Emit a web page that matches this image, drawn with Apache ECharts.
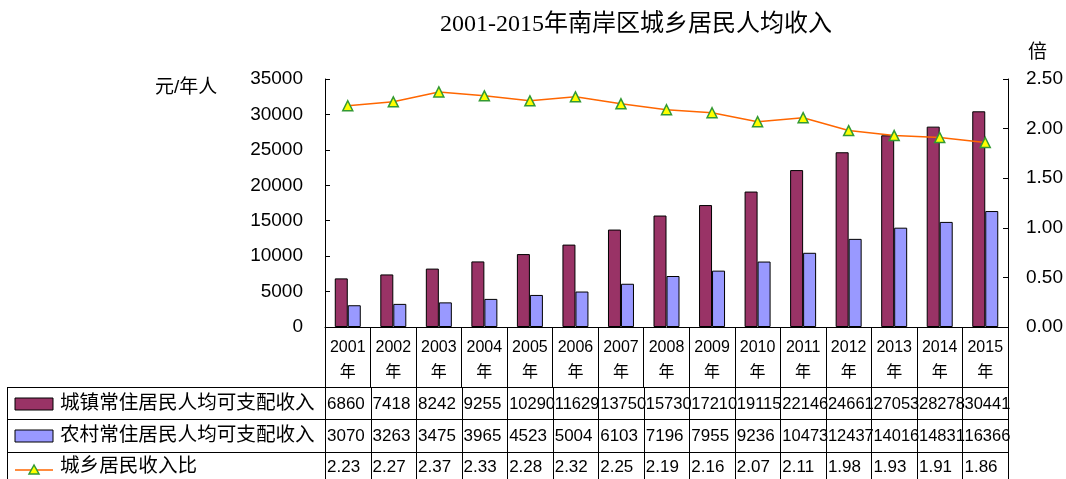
<!DOCTYPE html>
<html><head><meta charset="utf-8">
<script src="https://cdn.jsdelivr.net/npm/echarts@6/dist/echarts.min.js"></script>
<style>html,body{margin:0;padding:0;background:#fff;}#c{width:1066px;height:479px;}</style>
</head><body><div id="c"></div>
<script>
const years = ['2001','2002','2003','2004','2005','2006','2007','2008','2009','2010','2011','2012','2013','2014','2015'];
const urban = [6860,7418,8242,9255,10290,11629,13750,15730,17210,19115,22146,24661,27053,28278,30441];
const rural = [3070,3263,3475,3965,4523,5004,6103,7196,7955,9236,10473,12437,14016,14831,16366];
const ratio = [2.23,2.27,2.37,2.33,2.28,2.32,2.25,2.19,2.16,2.07,2.11,1.98,1.93,1.91,1.86];
const seriesNames = ['城镇常住居民人均可支配收入','农村常住居民人均可支配收入','城乡居民收入比'];
const titleText = '2001-2015年南岸区城乡居民人均收入';
const leftUnit = '元/年人';
const rightUnit = '倍';

const FONT = "'Liberation Sans','Noto Sans CJK SC',sans-serif";
const C_URBAN = '#993366', C_RURAL = '#9999FF', C_LINE = '#FF6600';

const chart = echarts.init(document.getElementById('c'), null, {renderer:'canvas'});
const option = {
  animation: false,
  backgroundColor: '#fff',
  title: {
    text: titleText, left: 631, top: 8, textAlign: 'center',
    textStyle: {fontSize: 24, fontWeight: 'normal', color: '#000', fontFamily: "'Liberation Serif','Noto Sans CJK SC',serif"}
  },
  grid: {left: 325, right: 53, top: 79, bottom: 152},
  xAxis: [{
    type: 'category', data: years, boundaryGap: true,
    axisLine: {show: true, lineStyle: {color: '#000', width: 1}},
    axisTick: {show: true, interval: 0, length: 60, lineStyle: {color: '#000', width: 1}},
    axisLabel: {interval: 0, margin: 8, fontSize: 16, lineHeight: 25, color: '#000', fontFamily: FONT,
      formatter: v => v + '\n年'}
  }],
  yAxis: [{
    type: 'value', min: 0, max: 35000, interval: 5000,
    axisLine: {show: true, lineStyle: {color: '#000'}},
    axisTick: {show: true, inside: true, length: 5, lineStyle: {color: '#000'}},
    axisLabel: {fontSize: 19, margin: 22, color: '#000', fontFamily: FONT, formatter: v => String(v)},
    splitLine: {show: false}
  },{
    type: 'value', min: 0, max: 2.5, interval: 0.5, position: 'right',
    axisLine: {show: true, lineStyle: {color: '#000'}},
    axisTick: {show: true, inside: true, length: 5, lineStyle: {color: '#000'}},
    axisLabel: {fontSize: 19, margin: 18, color: '#000', fontFamily: FONT, formatter: v => v.toFixed(2)},
    splitLine: {show: false}
  }],
  series: [{
    name: seriesNames[0], type: 'bar', data: urban, barWidth: 13, barGap: '0%',
    itemStyle: {color: C_URBAN, borderColor: '#000', borderWidth: 1}
  },{
    name: seriesNames[1], type: 'bar', data: rural, barWidth: 13, barGap: '0%',
    itemStyle: {color: C_RURAL, borderColor: '#000', borderWidth: 1}
  },{
    name: seriesNames[2], type: 'line', yAxisIndex: 1, data: ratio,
    symbol: 'triangle', symbolSize: 10, z: 5,
    lineStyle: {color: C_LINE, width: 1.5},
    itemStyle: {color: '#FFFF00', borderColor: '#339933', borderWidth: 1.5}
  }],
  graphic: []
};
chart.setOption(option);

// Build the data table beneath the chart from the category axis positions
function buildTable(){
  const p0 = chart.convertToPixel({xAxisIndex: 0}, 0);
  const p1 = chart.convertToPixel({xAxisIndex: 0}, 1);
  const w = p1 - p0;
  const bounds = [];
  for (let i = 0; i <= years.length; i++) bounds.push(p0 - w/2 + i*w);
  const xEnd = bounds[bounds.length-1];
  const rowTops = [387, 419, 452];
  const rowBottom = 485;
  const leftEdge = 7;
  const g = [];
  const ls = {stroke: '#000', lineWidth: 1};
  rowTops.forEach(y => g.push({type:'line', shape:{x1:leftEdge, y1:y+0.5, x2:xEnd, y2:y+0.5}, style: ls, silent:true}));
  g.push({type:'line', shape:{x1:leftEdge+0.5, y1:rowTops[0], x2:leftEdge+0.5, y2:rowBottom}, style: ls, silent:true});
  bounds.forEach(x => g.push({type:'line', shape:{x1:Math.round(x)+0.5, y1:rowTops[0], x2:Math.round(x)+0.5, y2:rowBottom}, style: ls, silent:true}));
  const rows = [urban.map(String), rural.map(String), ratio.map(v => v.toFixed(2))];
  const rowCenters = [404, 436, 467];
  rows.forEach((vals, r) => {
    vals.forEach((t, i) => {
      g.push({type:'text', x: bounds[i] + 2, y: rowCenters[r], silent:true,
        style:{text: t, fontSize: t.length > 4 ? 16.5 : 17, fontFamily: FONT, fill:'#000', textAlign:'left', textVerticalAlign:'middle'}});
    });
    g.push({type:'text', x: 60, y: rowCenters[r], silent:true,
      style:{text: seriesNames[r], fontSize: 19.6, fontFamily: FONT, fill:'#000', textAlign:'left', textVerticalAlign:'middle'}});
  });
  // legend keys
  g.push({type:'rect', shape:{x:15, y:398, width:38, height:12}, style:{fill:C_URBAN, stroke:'#000', lineWidth:1}, silent:true});
  g.push({type:'rect', shape:{x:15, y:430, width:38, height:12}, style:{fill:C_RURAL, stroke:'#000', lineWidth:1}, silent:true});
  g.push({type:'line', shape:{x1:15, y1:470, x2:53, y2:470}, style:{stroke:C_LINE, lineWidth:1.5}, silent:true});
  g.push({type:'polygon', shape:{points:[[34,465],[29,474],[39,474]]}, style:{fill:'#FFFF00', stroke:'#339933', lineWidth:1.5}, silent:true});
  // axis unit labels
  g.push({type:'text', x: 155, y: 88, silent:true, style:{text: leftUnit, fontSize: 19, fontFamily: FONT, fill:'#000', textAlign:'left', textVerticalAlign:'middle'}});
  g.push({type:'text', x: 1028, y: 53, silent:true, style:{text: rightUnit, fontSize: 19, fontFamily: FONT, fill:'#000', textAlign:'left', textVerticalAlign:'middle'}});
  chart.setOption({graphic: g});
}
buildTable();
</script></body></html>
